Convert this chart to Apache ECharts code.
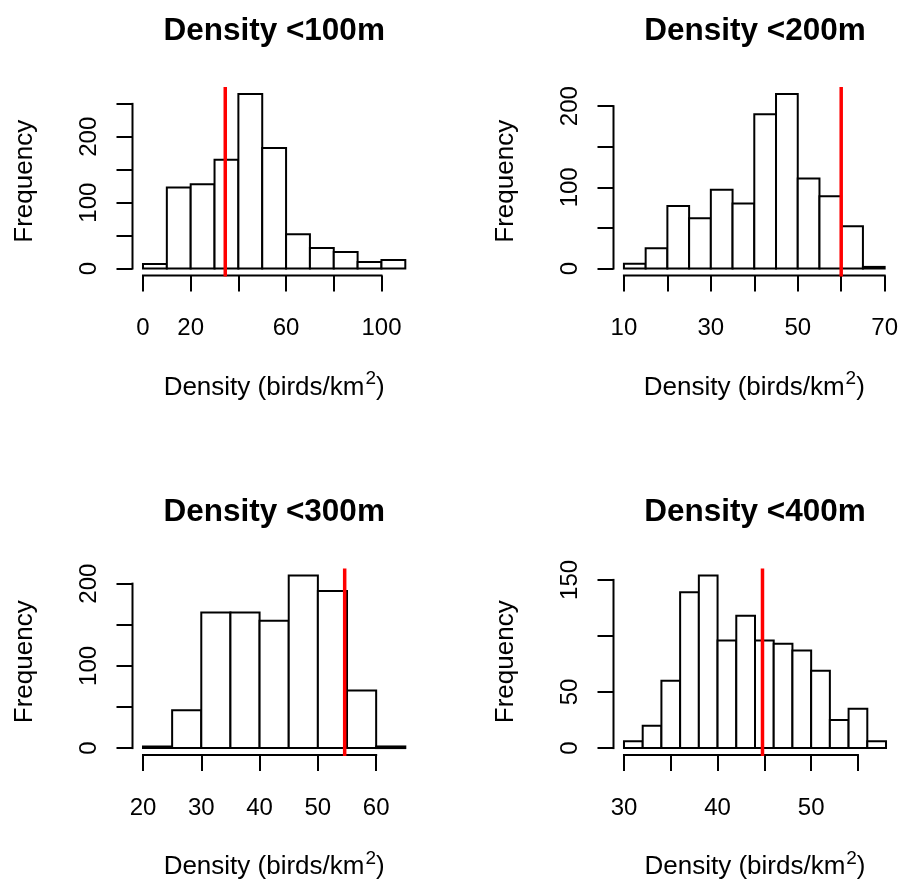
<!DOCTYPE html>
<html>
<head>
<meta charset="utf-8">
<script src="https://cdn.jsdelivr.net/npm/echarts@6/dist/echarts.min.js"></script>
<style>
  html, body { margin: 0; padding: 0; background: #fff; }
  #chart { width: 901px; height: 881px; }
</style>
</head>
<body>
<div id="chart"></div>
<script>
// Panel titles
const titles = ['Density <100m', 'Density <200m', 'Density <300m', 'Density <400m'];

// Histogram bin edges and counts for each distance band
const breaks100 = [0, 10, 20, 30, 40, 50, 60, 70, 80, 90, 100, 110];
const counts100 = [7, 123, 128, 165, 265, 183, 52, 31, 25, 10, 13];

const breaks200 = [10, 15, 20, 25, 30, 35, 40, 45, 50, 55, 60, 65, 70];
const counts200 = [6, 25, 77, 62, 97, 80, 190, 215, 111, 89, 52, 2];

const breaks300 = [20, 25, 30, 35, 40, 45, 50, 55, 60, 65];
const counts300 = [2, 46, 165, 165, 155, 210, 191, 70, 2];

const breaks400 = [30, 32, 34, 36, 38, 40, 42, 44, 46, 48, 50, 52, 54, 56, 58];
const counts400 = [6, 20, 60, 139, 154, 96, 118, 96, 93, 87, 69, 25, 35, 6];

// Reference density marked in red on each panel
const refValues = [34.5, 60, 54.6, 44.8];

// Tick positions and the tick labels that are printed
const xTicks100 = [0, 20, 40, 60, 80, 100];
const xLabels100 = [0, 20, 60, 100];
const yTicks100 = [0, 50, 100, 150, 200, 250];
const yLabels100 = [0, 100, 200];

const xTicks200 = [10, 20, 30, 40, 50, 60, 70];
const xLabels200 = [10, 30, 50, 70];
const yTicks200 = [0, 50, 100, 150, 200];
const yLabels200 = [0, 100, 200];

const xTicks300 = [20, 30, 40, 50, 60];
const xLabels300 = [20, 30, 40, 50, 60];
const yTicks300 = [0, 50, 100, 150, 200];
const yLabels300 = [0, 100, 200];

const xTicks400 = [30, 35, 40, 45, 50, 55];
const xLabels400 = [30, 40, 50];
const yTicks400 = [0, 50, 100, 150];
const yLabels400 = [0, 50, 150];

const panels = [
  { breaks: breaks100, counts: counts100, xTicks: xTicks100, xLabels: xLabels100, yTicks: yTicks100, yLabels: yLabels100 },
  { breaks: breaks200, counts: counts200, xTicks: xTicks200, xLabels: xLabels200, yTicks: yTicks200, yLabels: yLabels200 },
  { breaks: breaks300, counts: counts300, xTicks: xTicks300, xLabels: xLabels300, yTicks: yTicks300, yLabels: yLabels300 },
  { breaks: breaks400, counts: counts400, xTicks: xTicks400, xLabels: xLabels400, yTicks: yTicks400, yLabels: yLabels400 }
];

// Layout of the four plot regions
const FONT = "'Liberation Sans', Arial, Helvetica, sans-serif";
const LINE_W = 2;
const gridBoxes = [
  { left: 132.5, top: 87, width: 283.3, height: 188.5 },
  { left: 613.5, top: 87, width: 283, height: 188.5 },
  { left: 132.5, top: 568.5, width: 283.3, height: 188.5 },
  { left: 613.5, top: 568.5, width: 283, height: 188.5 }
];

const grids = [], xAxes = [], yAxes = [], series = [], titleList = [];

panels.forEach((p, k) => {
  const b0 = p.breaks[0], bN = p.breaks[p.breaks.length - 1];
  const cMax = Math.max(...p.counts);
  // 4% padding on both ends, like base graphics
  const xMin = b0 - 0.04 * (bN - b0), xMax = bN + 0.04 * (bN - b0);
  const yMin = -0.04 * cMax, yMax = 1.04 * cMax;

  grids.push(Object.assign({ containLabel: false }, gridBoxes[k]));

  titleList.push({
    text: titles[k],
    left: gridBoxes[k].left + gridBoxes[k].width / 2,
    top: gridBoxes[k].top - 72,
    textAlign: 'center',
    padding: 0,
    textStyle: { fontFamily: FONT, fontSize: 31.5, fontWeight: 'bold', color: '#000' }
  });

  xAxes.push({
    type: 'value', gridIndex: k, min: xMin, max: xMax,
    axisLine: { show: false, onZero: false },
    splitLine: { show: false },
    axisTick: { show: true, customValues: p.xTicks, length: 16, lineStyle: { color: '#000', width: LINE_W } },
    axisLabel: { customValues: p.xLabels, margin: 41, fontSize: 24, color: '#000', fontFamily: FONT },
    name: 'Density (birds/km{s|2})',
    nameLocation: 'middle',
    nameGap: 94,
    nameTextStyle: {
      fontSize: 26, color: '#000', fontFamily: FONT,
      rich: { s: { fontSize: 19, color: '#000', fontFamily: FONT, padding: [0, 0, 17, 1] } }
    }
  });

  yAxes.push({
    type: 'value', gridIndex: k, min: yMin, max: yMax,
    axisLine: { show: false, onZero: false },
    splitLine: { show: false },
    axisTick: { show: true, customValues: p.yTicks, length: 16, lineStyle: { color: '#000', width: LINE_W } },
    axisLabel: { customValues: p.yLabels, rotate: 90, margin: 31, fontSize: 24, color: '#000', fontFamily: FONT },
    name: 'Frequency',
    nameLocation: 'middle',
    nameGap: 95,
    nameTextStyle: { fontSize: 26, color: '#000', fontFamily: FONT }
  });

  // Histogram bars: [left edge, right edge, count]
  const barData = p.counts.map((c, i) => [p.breaks[i], p.breaks[i + 1], c]);
  series.push({
    type: 'custom', xAxisIndex: k, yAxisIndex: k, z: 2,
    encode: { x: [0, 1], y: 2 },
    data: barData,
    renderItem: (params, api) => {
      const lo = api.coord([api.value(0), 0]);
      const hi = api.coord([api.value(1), api.value(2)]);
      return {
        type: 'rect',
        shape: { x: lo[0], y: hi[1], width: hi[0] - lo[0], height: lo[1] - hi[1] },
        style: { fill: '#fff', stroke: '#000', lineWidth: LINE_W }
      };
    }
  });

  // Axis lines running from the first to the last tick
  series.push({
    type: 'custom', xAxisIndex: k, yAxisIndex: k, z: 3,
    data: [[p.xTicks[0], yMin]],
    renderItem: (params, api) => {
      const xa = api.coord([p.xTicks[0], yMin]);
      const xb = api.coord([p.xTicks[p.xTicks.length - 1], yMin]);
      const ya = api.coord([xMin, p.yTicks[0]]);
      const yb = api.coord([xMin, p.yTicks[p.yTicks.length - 1]]);
      const st = { stroke: '#000', lineWidth: LINE_W, lineCap: 'square' };
      return {
        type: 'group',
        children: [
          { type: 'line', shape: { x1: xa[0], y1: xa[1], x2: xb[0], y2: xb[1] }, style: st },
          { type: 'line', shape: { x1: ya[0], y1: ya[1], x2: yb[0], y2: yb[1] }, style: st }
        ]
      };
    }
  });

  // Red vertical reference line across the full plot height
  series.push({
    type: 'custom', xAxisIndex: k, yAxisIndex: k, z: 4,
    data: [[refValues[k]]],
    renderItem: (params, api) => {
      const a = api.coord([api.value(0), yMin]);
      const b = api.coord([api.value(0), yMax]);
      return {
        type: 'line',
        shape: { x1: a[0], y1: a[1] + 1, x2: b[0], y2: b[1] },
        style: { stroke: '#ff0000', lineWidth: 3.5 }
      };
    }
  });
});

const chart = echarts.init(document.getElementById('chart'), null, { renderer: 'canvas' });
chart.setOption({
  backgroundColor: '#fff',
  animation: false,
  title: titleList,
  grid: grids,
  xAxis: xAxes,
  yAxis: yAxes,
  series: series
});
</script>
</body>
</html>
